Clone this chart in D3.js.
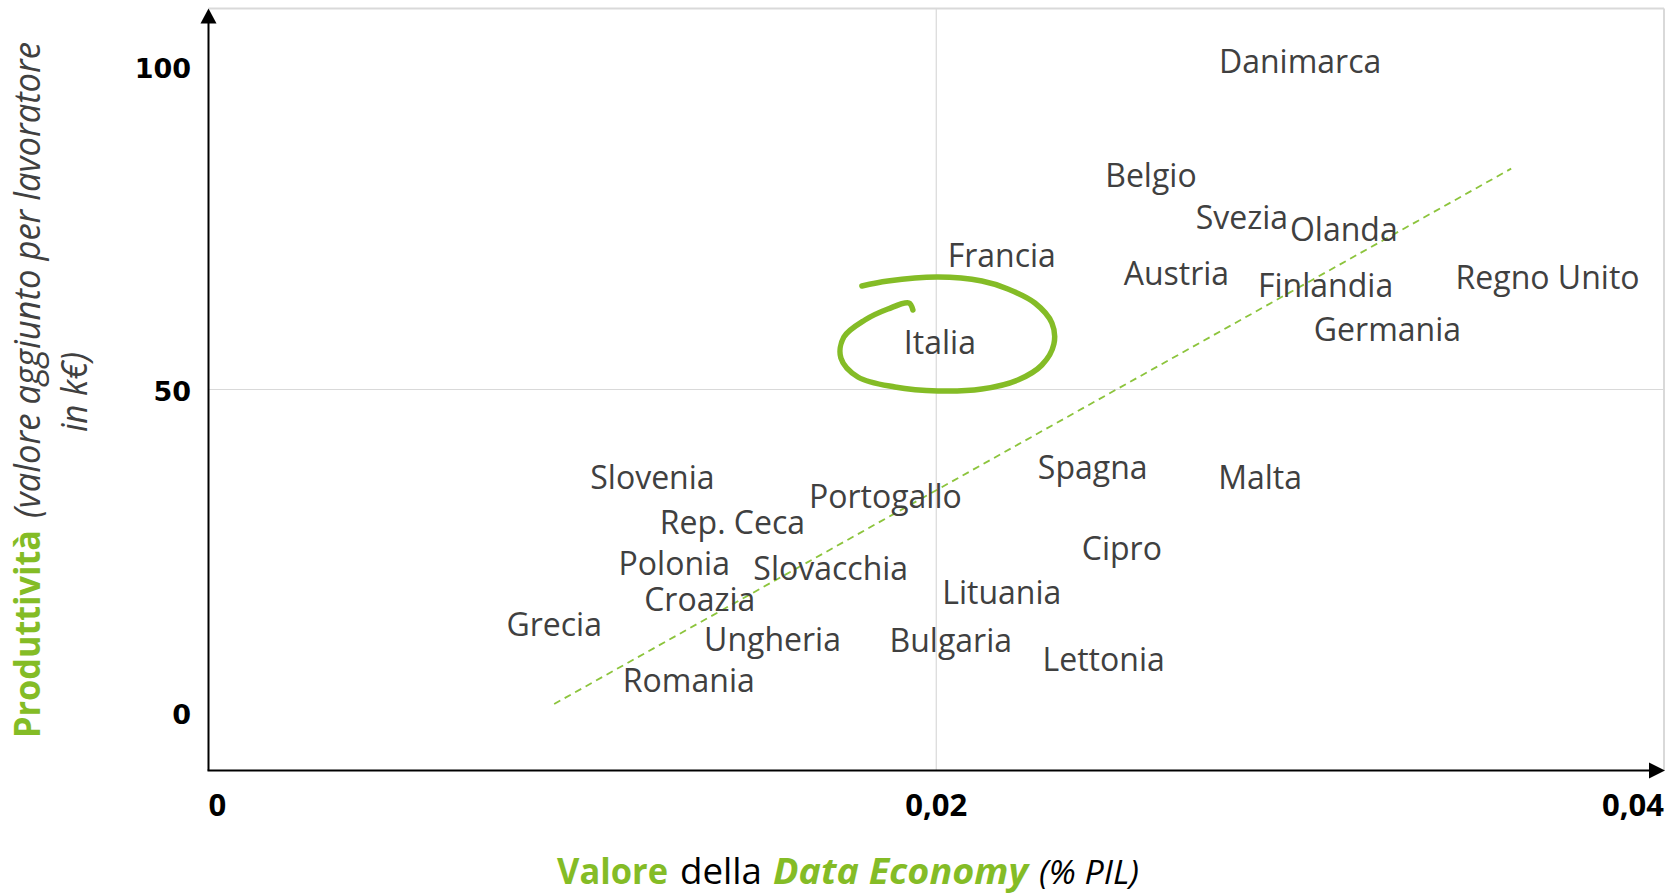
<!DOCTYPE html>
<html>
<head>
<meta charset="utf-8">
<script src="https://cdn.jsdelivr.net/npm/d3@7"></script>
<style>
  html, body { margin: 0; padding: 0; background: #ffffff; }
  svg { display: block; }
</style>
</head>
<body>
<svg id="chart" width="1665" height="894"></svg>
<script>
// ---- data ----
const countries = ["Danimarca","Belgio","Svezia","Olanda","Francia","Austria","Finlandia","Regno Unito","Germania","Italia","Spagna","Malta","Slovenia","Portogallo","Rep. Ceca","Cipro","Polonia","Slovacchia","Lituania","Croazia","Grecia","Ungheria","Bulgaria","Lettonia","Romania"];
const dataEconomy = [0.0300,0.0259,0.0284,0.0312,0.0218,0.0266,0.0307,0.0368,0.0324,0.0201,0.0243,0.0289,0.0122,0.0186,0.0144,0.0251,0.0128,0.0171,0.0218,0.0135,0.0095,0.0155,0.0204,0.0246,0.0132];
const productivity = [100.7,83.1,76.5,74.7,70.6,67.9,66.0,67.3,59.2,57.2,37.8,36.2,36.2,33.4,29.3,25.3,22.9,22.2,18.4,17.4,13.5,11.2,11.0,8.1,4.9];
const xTicks = [0, 0.02, 0.04];
const xTickLabels = ["0", "0,02", "0,04"];
const yTicks = [0, 50, 100];
const yTickLabels = ["0", "50", "100"];
const trendX = [0.0095, 0.0358];
const trendY = [1.3, 84.2];
const highlighted = "Italia";
// hand-drawn ring offsets around highlighted label (px)
const ringOffsets = [[-78,-57],[-52,-62],[-2,-66],[42,-62],[68,-54],[95,-40],[112,-20],[114,1],[102,22],[78,37],[42,46],[-2,48],[-45,44],[-82,34],[-99,15],[-96,-6],[-75,-23],[-52,-34],[-31,-40],[-27,-33]];

const GREEN = "#84bc26";
const svg = d3.select("#chart");
const x = d3.scaleLinear().domain([0, 0.04]).range([208.5, 1664]);
const y = d3.scaleLinear().domain([-9, 109]).range([770.5, 8.5]);

// grid / frame
svg.append("line").attr("x1", x(0.02)).attr("x2", x(0.02)).attr("y1", y(109)).attr("y2", y(-9))
  .attr("stroke", "#d9d9d9").attr("stroke-width", 1.2);
svg.append("line").attr("x1", x(0)).attr("x2", x(0.04)).attr("y1", y(50)).attr("y2", y(50))
  .attr("stroke", "#d9d9d9").attr("stroke-width", 1.2);
svg.append("line").attr("x1", x(0)).attr("x2", x(0.04)).attr("y1", y(109)).attr("y2", y(109))
  .attr("stroke", "#d9d9d9").attr("stroke-width", 2);
svg.append("line").attr("x1", x(0.04)).attr("x2", x(0.04)).attr("y1", y(109)).attr("y2", y(-9))
  .attr("stroke", "#d9d9d9").attr("stroke-width", 2);

// axes with arrows
svg.append("line").attr("x1", x(0)).attr("x2", x(0)).attr("y1", y(-9)).attr("y2", y(109) + 12)
  .attr("stroke", "#000").attr("stroke-width", 2);
svg.append("line").attr("x1", x(0) - 1).attr("x2", x(0.04) - 12).attr("y1", y(-9)).attr("y2", y(-9))
  .attr("stroke", "#000").attr("stroke-width", 2);
svg.append("path")
  .attr("d", `M${x(0)},${y(109)} L${x(0)-8},${y(109)+15} L${x(0)+8},${y(109)+15} Z`).attr("fill", "#000");
svg.append("path")
  .attr("d", `M${x(0.04)+1},${y(-9)} L${x(0.04)-15},${y(-9)-8} L${x(0.04)-15},${y(-9)+8} Z`).attr("fill", "#000");

// tick labels
svg.selectAll(".ytick").data(yTicks).enter().append("text")
  .attr("x", 191).attr("y", d => y(d) + 2).attr("dy", "0.36em")
  .attr("text-anchor", "end")
  .attr("font-family", "DejaVu Sans").attr("font-weight", "bold").attr("font-size", 27)
  .attr("fill", "#000").text((d, i) => yTickLabels[i]);
svg.selectAll(".xtick").data(xTicks).enter().append("text")
  .attr("x", d => x(d)).attr("y", 816)
  .attr("text-anchor", (d, i) => i === 0 ? "start" : (i === xTicks.length - 1 ? "end" : "middle"))
  .attr("font-family", "Open Sans").attr("font-weight", "bold").attr("font-size", 31)
  .attr("fill", "#000").text((d, i) => xTickLabels[i]);

// trend line
svg.append("path")
  .attr("d", d3.line().x(d => x(d[0])).y(d => y(d[1]))(trendX.map((v, i) => [v, trendY[i]])))
  .attr("fill", "none").attr("stroke", "#8cc43c").attr("stroke-width", 1.8)
  .attr("stroke-dasharray", "7,5");

// country labels
const pts = countries.map((c, i) => ({ name: c, x: dataEconomy[i], y: productivity[i] }));
svg.selectAll(".lbl").data(pts).enter().append("text")
  .attr("x", d => x(d.x)).attr("y", d => y(d.y)).attr("dy", "0.34em")
  .attr("text-anchor", "middle")
  .attr("font-family", "Open Sans").attr("font-size", 32).attr("fill", "#404040")
  .text(d => d.name);

// hand-drawn ring around highlighted country
const hp = pts.find(d => d.name === highlighted);
const cx = x(hp.x), cy = y(hp.y);
svg.append("path")
  .attr("d", d3.line().curve(d3.curveCatmullRom)(ringOffsets.map(o => [cx + o[0], cy + o[1]])))
  .attr("fill", "none").attr("stroke", GREEN).attr("stroke-width", 5.5)
  .attr("stroke-linecap", "round").attr("stroke-linejoin", "round");

// axis titles
function seg(g, txt, x0, len, opts) {
  return g.append("text").attr("x", x0).attr("y", 0)
    .attr("font-family", "Open Sans").attr("font-size", opts.size || 36)
    .attr("font-weight", opts.bold ? "bold" : "normal")
    .attr("font-style", opts.italic ? "italic" : "normal")
    .attr("fill", opts.fill)
    .attr("textLength", len).attr("lengthAdjust", "spacingAndGlyphs")
    .text(txt);
}
const xt = svg.append("g").attr("transform", "translate(0,884)");
seg(xt, "Valore", 557, 111, { bold: true, fill: GREEN });
seg(xt, "della", 680, 82, { fill: "#000" });
seg(xt, "Data Economy", 773, 255, { bold: true, italic: true, fill: GREEN });
seg(xt, "(% PIL)", 1039, 100, { italic: true, fill: "#000", size: 33 });

const yt1 = svg.append("g").attr("transform", "translate(40,0) rotate(-90)");
seg(yt1, "Produttività", -738, 208, { bold: true, fill: GREEN });
seg(yt1, "(valore aggiunto per lavoratore", -518, 476, { italic: true, fill: "#404040" });
const yt2 = svg.append("g").attr("transform", "translate(87,0) rotate(-90)");
seg(yt2, "in k€)", -432, 80, { italic: true, fill: "#404040" });
</script>
</body>
</html>
